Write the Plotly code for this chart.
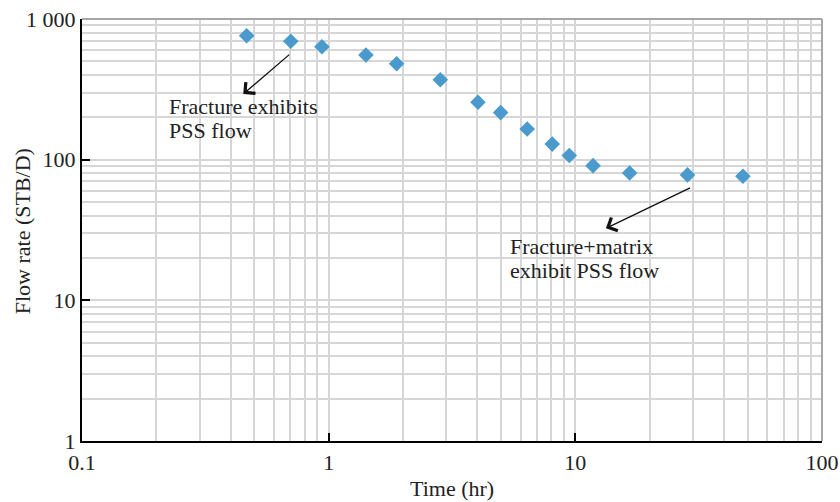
import math
import plotly.graph_objects as go

# Data
time_hr = [0.465, 0.702, 0.939, 1.416, 1.886, 2.835, 4.03, 4.98, 6.38, 8.06, 9.45, 11.8, 16.6, 28.5, 47.8]
flow_rate = [761, 694, 635, 555, 481, 370, 256, 216, 165, 129, 107, 90.7, 80.4, 77.9, 76.2]

x_tick_vals = [0.1, 1, 10, 100]
x_tick_text = ["0.1", "1", "10", "100"]
y_tick_vals = [1, 10, 100, 1000]
y_tick_text = ["1", "10", "100", "1 000"]

x_minor = [m * 10 ** e for e in (-1, 0, 1) for m in range(2, 10)]
y_minor = [m * 10 ** e for e in (0, 1, 2) for m in range(2, 10)]

FONT = "Liberation Serif"
GRID = "#d6d6d6"
TXT = "#222"

fig = go.Figure()
fig.add_trace(go.Scatter(
    x=time_hr, y=flow_rate, mode="markers",
    marker=dict(symbol="diamond", size=12, color="#4a9acd", line=dict(width=0)),
    showlegend=False,
))

axis_common = dict(
    type="log", showgrid=True, gridcolor=GRID, gridwidth=1.5,
    showline=True, linecolor="black", linewidth=2,
    ticks="inside", ticklen=8, tickwidth=2, tickcolor="black",
    tickfont=dict(family=FONT, size=22, color=TXT),
    zeroline=False, automargin=False, ticklabeloverflow="allow",
)

fig.update_layout(
    width=840, height=502,
    margin=dict(l=82, r=18, t=19, b=61),
    paper_bgcolor="white", plot_bgcolor="white",
    font=dict(family=FONT, size=22, color=TXT),
    xaxis=dict(
        **axis_common,
        range=[-1, 2], tickmode="array", tickvals=x_tick_vals, ticktext=x_tick_text,
        ticklabelstandoff=1,
        minor=dict(tickvals=x_minor, showgrid=True, gridcolor=GRID, gridwidth=1.5, ticks=""),
    ),
    yaxis=dict(
        **axis_common,
        range=[0, 3], tickmode="array", tickvals=y_tick_vals, ticktext=y_tick_text,
        minor=dict(tickvals=y_minor, showgrid=True, gridcolor=GRID, gridwidth=1.5, ticks=""),
    ),
    shapes=[
        dict(type="line", xref="paper", yref="paper", x0=0, x1=1, y0=1, y1=1,
             line=dict(color="#a6a6a6", width=2)),
        dict(type="line", xref="paper", yref="paper", x0=1, x1=1, y0=0, y1=1,
             line=dict(color="#a6a6a6", width=2)),
    ],
)

# Axis titles
fig.add_annotation(text="Time (hr)", xref="paper", yref="paper", x=0.5, y=-0.1137,
                   xanchor="center", yanchor="middle", showarrow=False,
                   font=dict(family=FONT, size=22, color=TXT))
fig.add_annotation(text="Flow rate (STB/D)", xref="paper", yref="paper", x=-0.0811, y=0.497,
                   xanchor="center", yanchor="middle", showarrow=False, textangle=-90,
                   font=dict(family=FONT, size=22, color=TXT))

L = math.log10

# Arrows (tip, tail) in data units
arrows = [
    ((0.4506, 293), (0.702, 570)),
    ((13.3, 32.5), (29.6, 63.7)),
]
for (tx, ty), (sx, sy) in arrows:
    fig.add_annotation(
        x=L(tx), y=L(ty), ax=L(sx), ay=L(sy), xref="x", yref="y", axref="x", ayref="y",
        text="", showarrow=True, arrowhead=4, arrowsize=2.2, arrowwidth=1.3, arrowcolor="#111",
    )

# Annotation text lines (text, left x, centre y)
label_lines = [
    ("Fracture exhibits", 0.2226, 237),
    ("PSS flow", 0.2226, 160),
    ("Fracture+matrix", 5.40, 24.15),
    ("exhibit PSS flow", 5.40, 16.31),
]
for txt, lx, ly in label_lines:
    fig.add_annotation(
        x=L(lx), y=L(ly), xref="x", yref="y", text=txt, showarrow=False,
        xanchor="left", yanchor="middle", align="left", borderpad=0,
        font=dict(family=FONT, size=22, color=TXT),
    )

fig.write_html(
    "out.html",
    config={"displayModeBar": False},
    post_script="document.body.style.margin='0';document.body.style.overflow='hidden';",
)
